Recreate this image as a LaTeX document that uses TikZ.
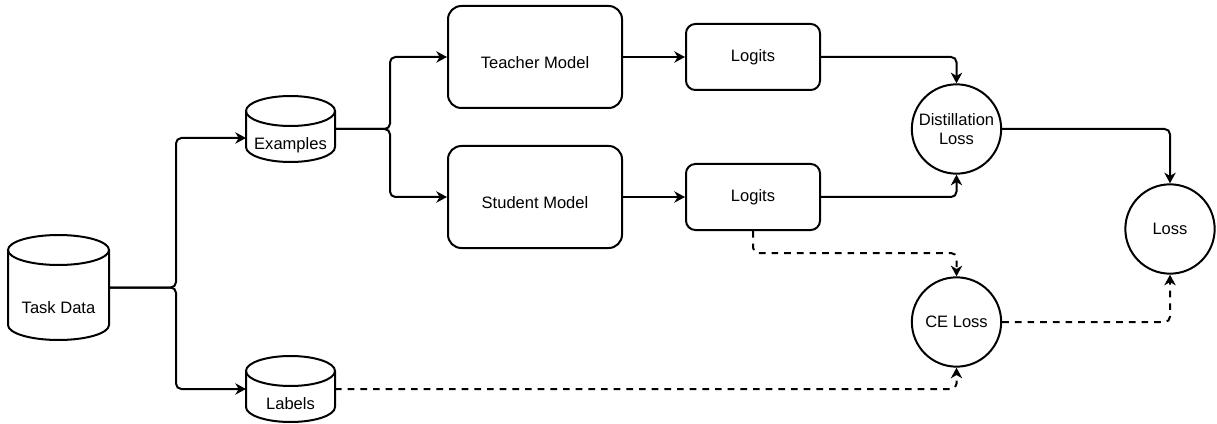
\documentclass[tikz,border=0pt]{standalone}
\usepackage{fontspec}
\setmainfont{Liberation Sans}
\usetikzlibrary{arrows.meta,calc,positioning}
\tikzset{
    flow/.style={draw=black, line width=1.5pt, rounded corners=4pt,
        -{Stealth[length=8pt,width=8.5pt,inset=2.5pt]}},
    cflow/.style={flow, dash pattern=on 5pt off 4.5pt},
    model/.style={draw=black, line width=1.5pt, rounded corners=10pt,
        minimum width=130.5pt, minimum height=76.5pt, text height=17pt, text depth=0pt},
    logit/.style={draw=black, line width=1.5pt, rounded corners=7pt,
        minimum width=100.5pt, minimum height=49.5pt},
    lossnode/.style={draw=black, line width=1.5pt, circle, minimum size=67pt,
        inner sep=0pt, align=center},
    db/.style={rectangle, outer sep=0pt, inner sep=0pt}
}
\begin{document}
\begin{tikzpicture}[x=0.75pt,y=-0.75pt,font=\fontsize{12.4}{14.3}\selectfont,line width=1.5pt]
	\useasboundingbox (0,0) rectangle (1217,424);
	% data stores
	\node[db, minimum width=75.75pt, minimum height=78.75pt,
		label={[yshift=-15pt]center:Task Data}] (data) at (58.5,287.5) {};
	\node[db, minimum width=66.75pt, minimum height=49.5pt,
		label={[yshift=-12pt]center:Examples}] (ex) at (290.5,129) {};
	\node[db, minimum width=66.75pt, minimum height=49.5pt,
		label={[yshift=-11pt]center:Labels}] (lab) at (290.5,389) {};
	\foreach \n/\w in {data/101,ex/89,lab/89}{
		\draw ($(\n.north)+(0,15)$) ellipse [x radius=\w*0.375pt, y radius=11.25pt];
		\draw ($(\n.north west)+(0,15)$) -- ($(\n.south west)+(0,-15)$)
			arc [start angle=180, end angle=360, x radius=\w*0.375pt, y radius=11.25pt]
			-- ($(\n.north east)+(0,15)$);
	}
	% models and outputs
	\node[model] (teacher) at (535,57) {Teacher Model};
	\node[model] (student) at (535,197) {Student Model};
	\node[logit] (lt) at (753,57) {Logits};
	\node[logit] (ls) at (753,197) {Logits};
	\node[lossnode] (dl) at (956.5,129) {Distillation\\Loss};
	\node[lossnode] (ce) at (956.5,322) {CE Loss};
	\node[lossnode] (loss) at (1170,229) {Loss};
	% connectors
	\draw[flow] (data.east) -- ++(67,0) |- ($(ex.west)+(0,9)$);
	\draw[flow] (data.east) -- ++(67,0) |- (lab.west);
	\draw[flow] (ex.east) -- ++(55,0) |- (teacher.west);
	\draw[flow] (ex.east) -- ++(55,0) |- (student.west);
	\draw[flow] (teacher) -- (lt);
	\draw[flow] (student) -- (ls);
	\draw[flow] (lt.east) -| (dl.north);
	\draw[flow] (ls.east) -| (dl.south);
	\draw[flow] (dl.east) -| (loss.north);
	\draw[cflow] (ls.south) -- ++(0,22) -| (ce.north);
	\draw[cflow] (lab.east) -| (ce.south);
	\draw[cflow] (ce.east) -| (loss.south);
\end{tikzpicture}
\end{document}
